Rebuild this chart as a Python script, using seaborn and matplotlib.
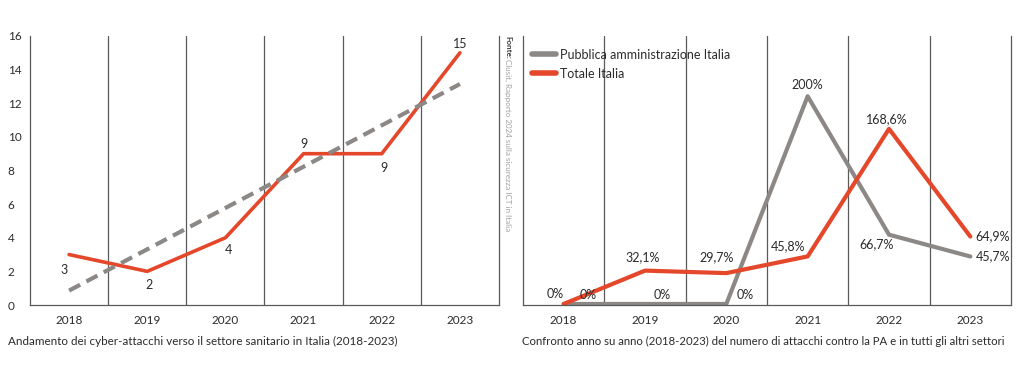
import numpy as np
import pandas as pd
import matplotlib
matplotlib.use("Agg")
import matplotlib.pyplot as plt
import seaborn as sns

anni = ["2018", "2019", "2020", "2021", "2022", "2023"]
attacchi_sanita = [3, 2, 4, 9, 9, 15]
pa_italia = [0, 0, 0, 200, 66.7, 45.7]
totale_italia = [0, 32.1, 29.7, 45.8, 168.6, 64.9]
serie_nomi = ["Pubblica amministrazione Italia", "Totale Italia"]

titolo_sx = "Andamento dei cyber-attacchi verso il settore sanitario in Italia (2018-2023)"
titolo_dx = "Confronto anno su anno (2018-2023) del numero di attacchi contro la PA e in tutti gli altri settori"
fonte = "Clusit, Rapporto 2024 sulla sicurezza ICT in Italia"

ROSSO = "#E4472A"
GRIGIO = "#8C8886"
LINEE = "#5a5a5a"
TESTO = "#2b2b2b"

sns.set_theme(style="white")
plt.rcParams["font.family"] = ["Lato", "DejaVu Sans"]

fig = plt.figure(figsize=(10.24, 3.76), dpi=100)
ax1 = fig.add_axes([30 / 1024, 1 - 305 / 376, 469 / 1024, 269 / 376])
ax2 = fig.add_axes([523 / 1024, 1 - 305 / 376, 488 / 1024, 269 / 376])

pos = np.arange(len(anni))


def stile_assi(ax):
    ax.set_xlim(-0.5, len(anni) - 0.5)
    ax.set_xticks(pos)
    ax.set_xticklabels(anni)
    ax.set_xticks(pos[:-1] + 0.5, minor=True)
    ax.grid(which="minor", axis="x", color=LINEE, lw=0.9)
    ax.grid(which="major", visible=False)
    ax.tick_params(which="both", length=0)
    ax.tick_params(axis="x", pad=7, labelsize=8.5, colors=TESTO)
    ax.tick_params(axis="y", labelsize=8.5, colors=TESTO)
    for s in ["left", "right", "bottom"]:
        ax.spines[s].set_color(LINEE)
        ax.spines[s].set_linewidth(0.9)
    ax.spines["top"].set_visible(False)
    ax.set_xlabel("")
    ax.set_ylabel("")


# --- grafico sinistro ---
df1 = pd.DataFrame({"pos": pos, "attacchi": attacchi_sanita})
sns.lineplot(data=df1, x="pos", y="attacchi", ax=ax1, color=ROSSO, lw=2.6, zorder=3)
sns.regplot(data=df1, x="pos", y="attacchi", ax=ax1, scatter=False, ci=None,
            line_kws=dict(color=GRIGIO, lw=3.0, linestyle=(0, (3, 1.7)), zorder=4))
stile_assi(ax1)
ax1.set_ylim(0, 16)
ax1.set_yticks(range(0, 17, 2))
for lab in ax1.get_yticklabels():
    lab.set_horizontalalignment("left")
ax1.yaxis.set_tick_params(pad=16)

off1 = [(-5, -15), (2, -14), (3, -12), (0, 10), (2, -14), (0, 9)]
for x, v, (dx, dy) in zip(pos, attacchi_sanita, off1):
    ax1.annotate(str(v), (x, v), xytext=(dx, dy), textcoords="offset pixels",
                 ha="center", va="center", fontsize=9, color=TESTO)

# --- grafico destro ---
df2 = pd.DataFrame({
    "pos": np.concatenate([pos, pos]),
    "valore": pa_italia + totale_italia,
    "serie": [serie_nomi[0]] * len(anni) + [serie_nomi[1]] * len(anni),
})
sns.lineplot(data=df2, x="pos", y="valore", hue="serie", ax=ax2,
             palette=[GRIGIO, ROSSO], lw=3.0)
for ln in ax2.lines:
    ln.set_clip_on(False)
stile_assi(ax2)
ax2.set_ylim(-1, 258)
ax2.set_yticks([])

leg = ax2.legend(loc="upper left", bbox_to_anchor=(0.0, 0.985), frameon=False,
                 fontsize=9, handlelength=1.9, handletextpad=0.4, labelspacing=0.55,
                 borderaxespad=0.3)
for h in leg.get_lines():
    h.set_linewidth(4)
for t in leg.get_texts():
    t.set_color(TESTO)


def fmt(v):
    return f"{v:g}".replace(".", ",") + "%"


off_pa = [(25, 9, "center"), (17, 9, "center"), (19, 9, "center"),
          (0, 11, "center"), (-12, -9, "center"), (5, 0, "left")]
off_tot = [(-8, 10, "center"), (-2, 13, "center"), (-10, 16, "center"),
           (-20, 10, "center"), (-2, 10, "center"), (5, 0, "left")]
for serie, offs in [(pa_italia, off_pa), (totale_italia, off_tot)]:
    for x, v, (dx, dy, ha) in zip(pos, serie, offs):
        ax2.annotate(fmt(v), (x, v), xytext=(dx, dy), textcoords="offset pixels",
                     ha=ha, va="center", fontsize=9, color=TESTO, annotation_clip=False)

# --- testi ---
fig.text(8 / 1024, 1 - 341 / 376, titolo_sx, ha="left", va="center", fontsize=8.4, color=TESTO)
fig.text(522 / 1024, 1 - 341 / 376, titolo_dx, ha="left", va="center", fontsize=8.2, color=TESTO)
fig.text(508 / 1024, 1 - 36 / 376, "Fonte:", rotation=-90, ha="center", va="top",
         fontsize=5.8, fontweight="bold", color="#3a3a3a")
fig.text(508 / 1024, 1 - 59 / 376, fonte, rotation=-90, ha="center", va="top",
         fontsize=5.8, color="#a0a0a0")

fig.savefig("out.png", dpi=100)
